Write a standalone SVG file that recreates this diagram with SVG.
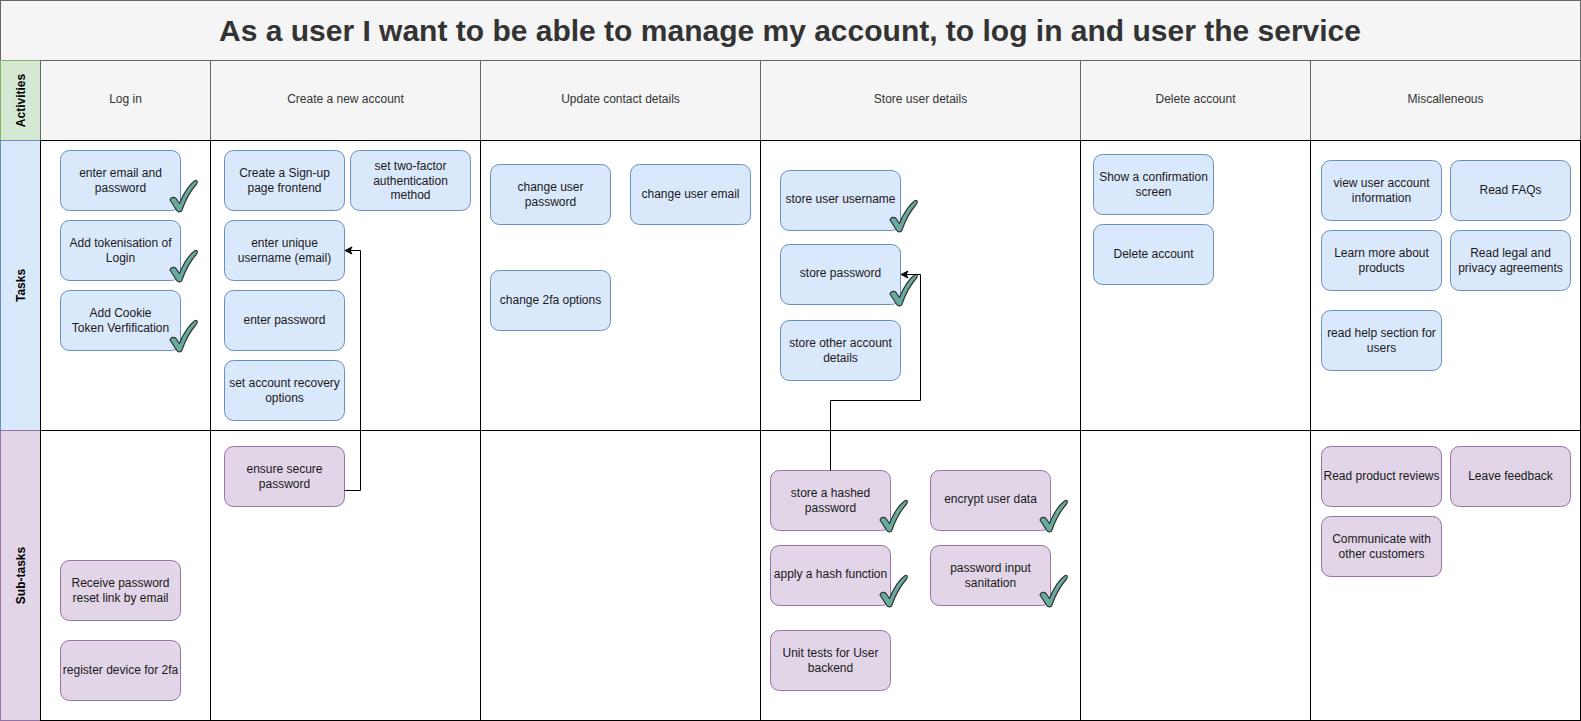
<svg xmlns="http://www.w3.org/2000/svg" width="1581" height="721" viewBox="0 0 1581 721">
<style>
.hdr{fill:#f5f5f5;stroke:#666;stroke-width:1}
.cell{fill:#fff;stroke:#000;stroke-width:1}
.task{fill:#dae8fc;stroke:#6c8ebf;stroke-width:1}
.sub{fill:#e1d5e7;stroke:#9673a6;stroke-width:1}
.t{font-family:"Liberation Sans",Arial,sans-serif;font-size:12px;fill:#1a1a1a;text-anchor:middle}
.h{font-family:"Liberation Sans",Arial,sans-serif;font-size:12px;fill:#333;text-anchor:middle}
.lane{font-family:"Liberation Sans",Arial,sans-serif;font-size:12px;font-weight:bold;fill:#000;text-anchor:middle}
.title{font-family:"Liberation Sans",Arial,sans-serif;font-size:30px;font-weight:bold;fill:#333;text-anchor:middle}
.conn{fill:none;stroke:#000;stroke-width:1}
</style>
<defs>
<marker id="arr" markerUnits="userSpaceOnUse" markerWidth="10" markerHeight="10" refX="8" refY="4.5" orient="auto">
<path d="M1,1 L8,4.5 L1,8 L3,4.5 Z" fill="#000" stroke="#000" stroke-width="1"/>
</marker>
<g id="chk">
<path d="M0,20 C1,17 4,16.5 6,18.5 L9.5,23.5 C13.5,13.5 18.5,5.5 24.5,1 C26.5,-0.5 28.5,1 26.5,4 C19.5,12 15,21 12,30 C11,32.5 8,32.5 6.8,30.5 Z" fill="#67ab9f" stroke="#333" stroke-width="1.2" stroke-linejoin="round"/>
</g>
</defs>

<g id="frame">
<rect class="hdr" x="0.5" y="0.5" width="1580" height="60"/>
<text class="title" x="790" y="41">As a user I want to be able to manage my account, to log in and user the service</text>
<rect x="0.5" y="60.5" width="40" height="80" fill="#d5e8d4" stroke="#82b366"/>
<rect x="0.5" y="140.5" width="40" height="290" fill="#dae8fc" stroke="#6c8ebf"/>
<rect x="0.5" y="430.5" width="40" height="290" fill="#e1d5e7" stroke="#9673a6"/>
<text class="lane" transform="translate(24.5,100.5) rotate(-90)">Activities</text>
<text class="lane" transform="translate(24.5,285.5) rotate(-90)">Tasks</text>
<text class="lane" transform="translate(24.5,575.5) rotate(-90)">Sub-tasks</text>

<rect class="hdr" x="40.5" y="60.5" width="170" height="80"/>
<rect class="hdr" x="210.5" y="60.5" width="270" height="80"/>
<rect class="hdr" x="480.5" y="60.5" width="280" height="80"/>
<rect class="hdr" x="760.5" y="60.5" width="320" height="80"/>
<rect class="hdr" x="1080.5" y="60.5" width="230" height="80"/>
<rect class="hdr" x="1310.5" y="60.5" width="270" height="80"/>
<text class="h" x="125.5" y="103">Log in</text>
<text class="h" x="345.5" y="103">Create a new account</text>
<text class="h" x="620.5" y="103">Update contact details</text>
<text class="h" x="920.5" y="103">Store user details</text>
<text class="h" x="1195.5" y="103">Delete account</text>
<text class="h" x="1445.5" y="103">Miscalleneous</text>

<rect class="cell" x="40.5" y="140.5" width="170" height="290"/>
<rect class="cell" x="210.5" y="140.5" width="270" height="290"/>
<rect class="cell" x="480.5" y="140.5" width="280" height="290"/>
<rect class="cell" x="760.5" y="140.5" width="320" height="290"/>
<rect class="cell" x="1080.5" y="140.5" width="230" height="290"/>
<rect class="cell" x="1310.5" y="140.5" width="270" height="290"/>
<rect class="cell" x="40.5" y="430.5" width="170" height="290"/>
<rect class="cell" x="210.5" y="430.5" width="270" height="290"/>
<rect class="cell" x="480.5" y="430.5" width="280" height="290"/>
<rect class="cell" x="760.5" y="430.5" width="320" height="290"/>
<rect class="cell" x="1080.5" y="430.5" width="230" height="290"/>
<rect class="cell" x="1310.5" y="430.5" width="270" height="290"/>
</g>

<g id="n-email"><rect class="task" x="60.5" y="150.5" width="120" height="60" rx="9"/><text class="t" x="120.5" y="177">enter email and</text><text class="t" x="120.5" y="192">password</text><use href="#chk" x="170" y="180"/></g>
<g id="n-token"><rect class="task" x="60.5" y="220.5" width="120" height="60" rx="9"/><text class="t" x="120.5" y="247">Add tokenisation of</text><text class="t" x="120.5" y="262">Login</text><use href="#chk" x="170" y="250"/></g>
<g id="n-cookie"><rect class="task" x="60.5" y="290.5" width="120" height="60" rx="9"/><text class="t" x="120.5" y="317">Add Cookie</text><text class="t" x="120.5" y="332">Token Verfification</text><use href="#chk" x="170" y="320"/></g>
<g id="n-reset"><rect class="sub" x="60.5" y="560.5" width="120" height="60" rx="9"/><text class="t" x="120.5" y="587">Receive password</text><text class="t" x="120.5" y="602">reset link by email</text></g>
<g id="n-device"><rect class="sub" x="60.5" y="640.5" width="120" height="60" rx="9"/><text class="t" x="120.5" y="673.5">register device for 2fa</text></g>

<g id="n-signup"><rect class="task" x="224.5" y="150.5" width="120" height="60" rx="9"/><text class="t" x="284.5" y="177">Create a Sign-up</text><text class="t" x="284.5" y="192">page frontend</text></g>
<g id="n-2fa"><rect class="task" x="350.5" y="150.5" width="120" height="60" rx="9"/><text class="t" x="410.5" y="170">set two-factor</text><text class="t" x="410.5" y="184.5">authentication</text><text class="t" x="410.5" y="199">method</text></g>
<g id="n-username"><rect class="task" x="224.5" y="220.5" width="120" height="60" rx="9"/><text class="t" x="284.5" y="247">enter unique</text><text class="t" x="284.5" y="262">username (email)</text></g>
<g id="n-pass"><rect class="task" x="224.5" y="290.5" width="120" height="60" rx="9"/><text class="t" x="284.5" y="323.5">enter password</text></g>
<g id="n-recovery"><rect class="task" x="224.5" y="360.5" width="120" height="60" rx="9"/><text class="t" x="284.5" y="387">set account recovery</text><text class="t" x="284.5" y="402">options</text></g>
<g id="n-secure"><rect class="sub" x="224.5" y="446.5" width="120" height="60" rx="9"/><text class="t" x="284.5" y="473">ensure secure</text><text class="t" x="284.5" y="488">password</text></g>

<g id="n-chpass"><rect class="task" x="490.5" y="164.5" width="120" height="60" rx="9"/><text class="t" x="550.5" y="191">change user</text><text class="t" x="550.5" y="206">password</text></g>
<g id="n-chemail"><rect class="task" x="630.5" y="164.5" width="120" height="60" rx="9"/><text class="t" x="690.5" y="197.5">change user email</text></g>
<g id="n-ch2fa"><rect class="task" x="490.5" y="270.5" width="120" height="60" rx="9"/><text class="t" x="550.5" y="303.5">change 2fa options</text></g>

<g id="n-storeuser"><rect class="task" x="780.5" y="170.5" width="120" height="60" rx="9"/><text class="t" x="840.5" y="203">store user username</text><use href="#chk" x="890" y="200"/></g>
<g id="n-storepass"><rect class="task" x="780.5" y="244.5" width="120" height="60" rx="9"/><text class="t" x="840.5" y="277">store password</text><use href="#chk" x="890" y="274"/></g>
<g id="n-storeother"><rect class="task" x="780.5" y="320.5" width="120" height="60" rx="9"/><text class="t" x="840.5" y="347">store other account</text><text class="t" x="840.5" y="362">details</text></g>
<g id="n-hashed"><rect class="sub" x="770.5" y="470.5" width="120" height="60" rx="9"/><text class="t" x="830.5" y="497">store a hashed</text><text class="t" x="830.5" y="512">password</text><use href="#chk" x="880" y="500"/></g>
<g id="n-encrypt"><rect class="sub" x="930.5" y="470.5" width="120" height="60" rx="9"/><text class="t" x="990.5" y="503">encrypt user data</text><use href="#chk" x="1040" y="500"/></g>
<g id="n-hashfn"><rect class="sub" x="770.5" y="545.5" width="120" height="60" rx="9"/><text class="t" x="830.5" y="578">apply a hash function</text><use href="#chk" x="880" y="575"/></g>
<g id="n-sanit"><rect class="sub" x="930.5" y="545.5" width="120" height="60" rx="9"/><text class="t" x="990.5" y="571.5">password input</text><text class="t" x="990.5" y="586.5">sanitation</text><use href="#chk" x="1040" y="575"/></g>
<g id="n-unit"><rect class="sub" x="770.5" y="630.5" width="120" height="60" rx="9"/><text class="t" x="830.5" y="657">Unit tests for User</text><text class="t" x="830.5" y="672">backend</text></g>

<g id="n-confirm"><rect class="task" x="1093.5" y="154.5" width="120" height="60" rx="9"/><text class="t" x="1153.5" y="181">Show a confirmation</text><text class="t" x="1153.5" y="196">screen</text></g>
<g id="n-delete"><rect class="task" x="1093.5" y="224.5" width="120" height="60" rx="9"/><text class="t" x="1153.5" y="257.5">Delete account</text></g>

<g id="n-view"><rect class="task" x="1321.5" y="160.5" width="120" height="60" rx="9"/><text class="t" x="1381.5" y="187">view user account</text><text class="t" x="1381.5" y="202">information</text></g>
<g id="n-faq"><rect class="task" x="1450.5" y="160.5" width="120" height="60" rx="9"/><text class="t" x="1510.5" y="193.5">Read FAQs</text></g>
<g id="n-learn"><rect class="task" x="1321.5" y="230.5" width="120" height="60" rx="9"/><text class="t" x="1381.5" y="257">Learn more about</text><text class="t" x="1381.5" y="272">products</text></g>
<g id="n-legal"><rect class="task" x="1450.5" y="230.5" width="120" height="60" rx="9"/><text class="t" x="1510.5" y="257">Read legal and</text><text class="t" x="1510.5" y="272">privacy agreements</text></g>
<g id="n-help"><rect class="task" x="1321.5" y="310.5" width="120" height="60" rx="9"/><text class="t" x="1381.5" y="337">read help section for</text><text class="t" x="1381.5" y="352">users</text></g>
<g id="n-reviews"><rect class="sub" x="1321.5" y="446.5" width="120" height="60" rx="9"/><text class="t" x="1381.5" y="479.5">Read product reviews</text></g>
<g id="n-feedback"><rect class="sub" x="1450.5" y="446.5" width="120" height="60" rx="9"/><text class="t" x="1510.5" y="479.5">Leave feedback</text></g>
<g id="n-communicate"><rect class="sub" x="1321.5" y="516.5" width="120" height="60" rx="9"/><text class="t" x="1381.5" y="543">Communicate with</text><text class="t" x="1381.5" y="558">other customers</text></g>

<g id="connectors">
<path class="conn" d="M344.5,490.5 H360.5 V250.5 H345" marker-end="url(#arr)"/>
<path class="conn" d="M830.5,470.5 V400.5 H920.5 V274.5 H901" marker-end="url(#arr)"/>
</g>
</svg>
